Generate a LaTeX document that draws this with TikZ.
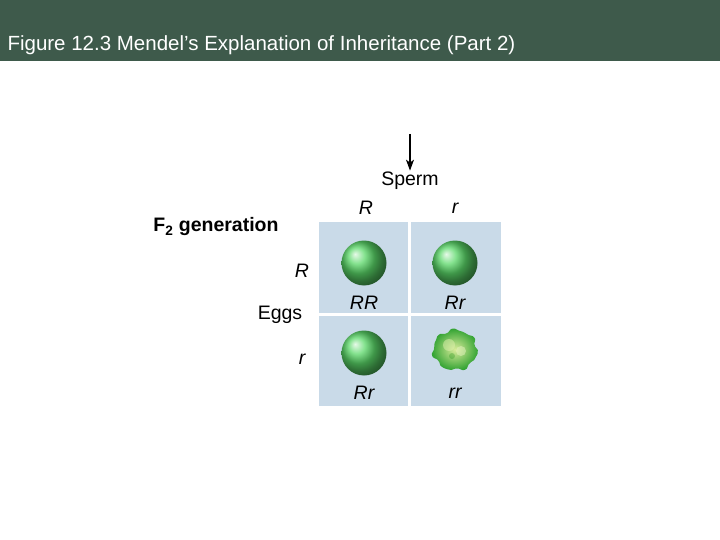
\documentclass[tikz,border=0pt]{standalone}
\usepackage{fontspec}
\setmainfont{Liberation Sans}
\usetikzlibrary{arrows.meta}
\begin{document}
\begin{tikzpicture}[x=1pt,y=-1pt,
  cell/.style={fill=cellblue,draw=none},
  lbl/.style={font=\fontsize{19.5}{22}\selectfont},
  gt/.style={font=\fontsize{19.5}{22}\selectfont\itshape},
  pea/.style={circle,minimum size=45pt,inner sep=0pt,shading=ball,ball color=peagreen}]
\definecolor{cellblue}{HTML}{C9DAE8}
\definecolor{bar}{HTML}{3E5A4B}
\definecolor{peagreen}{HTML}{5AD868}
\definecolor{wrink}{HTML}{D8EC9A}
\useasboundingbox (0,0) rectangle (720,540);
\fill[bar] (0,0) rectangle (720,61);
\node[anchor=west,text=white,font=\fontsize{20.5}{24}\selectfont] (title) at (4,45) {Figure 12.3 Mendel’s Explanation of Inheritance (Part 2)};
\fill[cell] (319,222) rectangle (408,313);
\fill[cell] (411,222) rectangle (501,313);
\fill[cell] (319,316) rectangle (408,406);
\fill[cell] (411,316) rectangle (501,406);
\node[pea] (p1) at (364,263) {};
\node[pea] (p2) at (455,263) {};
\node[pea] (p3) at (364,353) {};
\shade[inner color=wrink,outer color=green!55!black!80]
  plot[domain=0:350,samples=36,smooth cycle,variable=\t]
  ({455+(22+1.3*sin(7*\t)+0.8*cos(11*\t))*cos(\t)},{350+(20+1.3*sin(7*\t)+0.8*cos(11*\t))*sin(\t)});
\fill[wrink!80!white,opacity=0.5] (449,345) circle (6);
\fill[wrink!60!white,opacity=0.5] (461,351) circle (5);
\fill[green!50!black,opacity=0.25] (452,356) circle (3);
\node[gt] (l1) at (364,303) {RR};
\node[gt] (l2) at (455,303) {Rr};
\node[gt] (l3) at (364,393) {Rr};
\node[gt] (l4) at (455,393) {rr};
\node[gt] (sR) at (366,208) {R};
\node[gt] (sr) at (455,208) {r};
\node[lbl] (sperm) at (410,181) {Sperm};
\coordinate (atop) at (410,134);
\draw[-{Stealth[length=11pt,width=8pt,inset=3pt]},line width=1.2pt] (atop) -- ([yshift=-2pt]sperm.north);
\node[font=\fontsize{19.5}{22}\selectfont\bfseries] (f2) at (216,227) {F\textsubscript{2} generation};
\node[gt] (eR) at (302,271) {R};
\node[lbl] (eggs) at (280,315) {Eggs};
\node[gt] (er) at (302,359) {r};
\end{tikzpicture}
\end{document}
